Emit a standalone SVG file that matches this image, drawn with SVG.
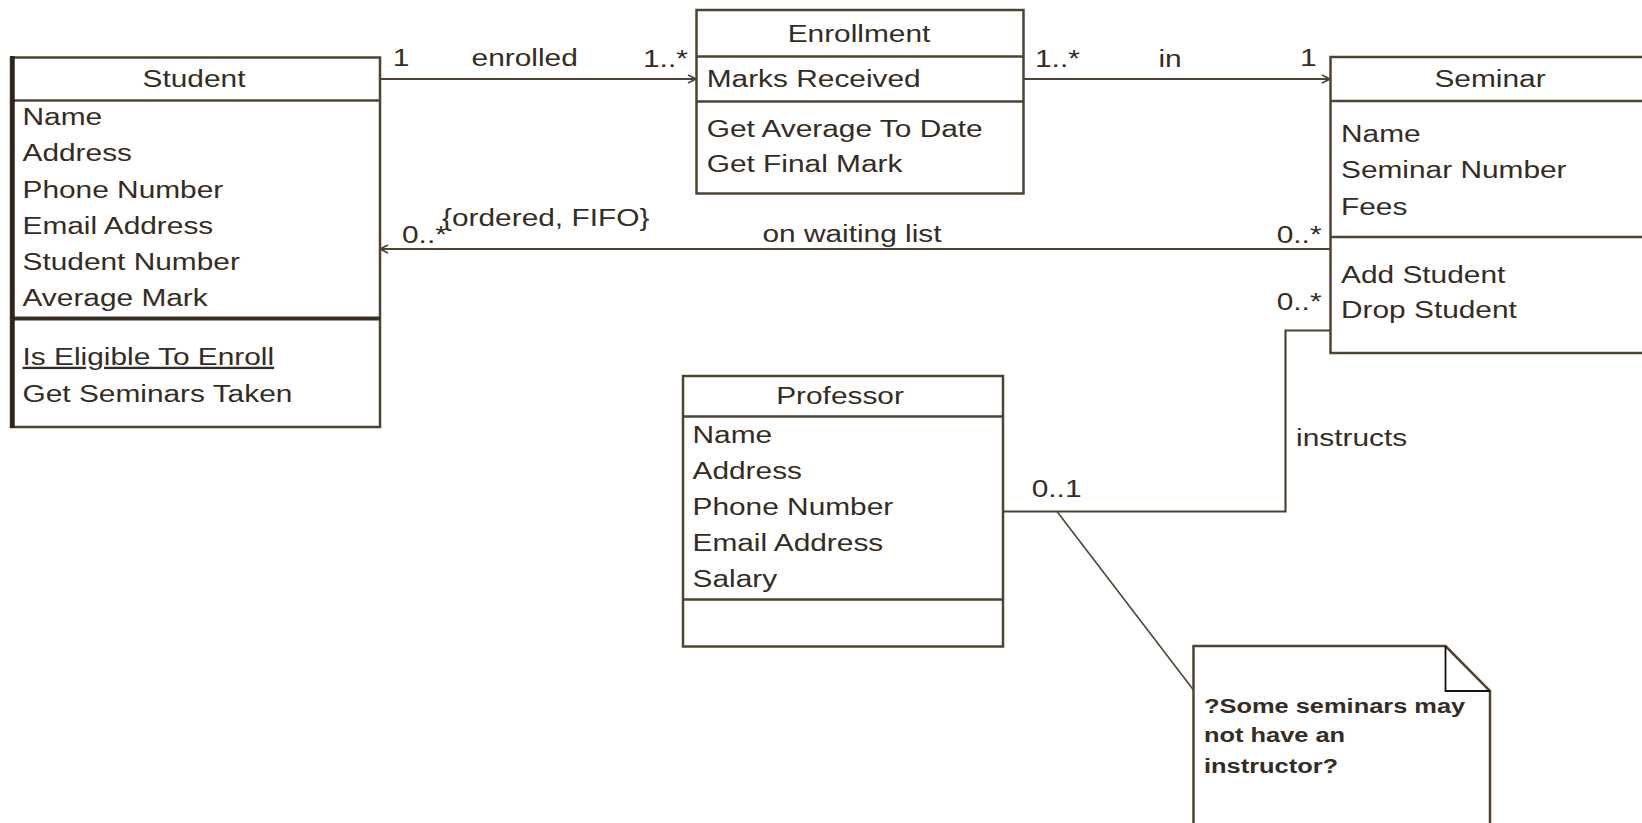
<svg xmlns="http://www.w3.org/2000/svg" width="1642" height="823" viewBox="0 0 1642 823">
<style>
.bg{fill:#ffffff}
.box{fill:#ffffff;stroke:#4f4336;stroke-width:2.5}
.div{stroke:#4f4336;stroke-width:2.5;fill:none}
.thick{stroke:#3a2f25;stroke-width:4;fill:none}
.edge{stroke:#2e241b;stroke-width:4.5;fill:none}
.fold{stroke:#111111;stroke-width:1.8;fill:none}
.con{stroke:#4f4336;stroke-width:2.2;fill:none}
.anchor{stroke:#4f4336;stroke-width:1.6;fill:none}
.t{font-family:"Liberation Sans",Arial,Helvetica,sans-serif;font-size:23.5px;fill:#352c24}
.c{text-anchor:middle}
.nb{font-family:"Liberation Sans",Arial,Helvetica,sans-serif;font-size:20px;font-weight:bold;fill:#352c24}
</style>
<defs>
<marker id="open" markerUnits="userSpaceOnUse" markerWidth="12" markerHeight="12" refX="9" refY="5" orient="auto">
<path d="M1,1 L9,5 L1,9" fill="none" stroke="#4f4336" stroke-width="1.8"/>
</marker>
</defs>
<rect class="bg" x="0" y="0" width="1642" height="823"/>

<g id="connectors">
<path id="c-enrolled" class="con" d="M380,79 L696,79" marker-end="url(#open)"/>
<path id="c-in" class="con" d="M1023,79 L1330,79" marker-end="url(#open)"/>
<path id="c-waiting" class="con" d="M1330,249 L380,249" marker-end="url(#open)"/>
<path id="c-instructs" class="con" d="M1003,511.5 L1285.5,511.5 L1285.5,330.5 L1330,330.5"/>
<path id="c-note" class="anchor" d="M1057,511.5 L1193.5,690"/>
<g id="connector-labels">
<text class="t" transform="translate(392.7 66) scale(1.27 1)">1</text>
<text class="t c" transform="translate(524.7 66) scale(1.27 1)">enrolled</text>
<text class="t" transform="translate(643 67) scale(1.27 1)">1..*</text>
<text class="t" transform="translate(1035 67) scale(1.27 1)">1..*</text>
<text class="t c" transform="translate(1170 67) scale(1.27 1)">in</text>
<text class="t" transform="translate(1300 66) scale(1.27 1)">1</text>
<text class="t" transform="translate(402 243) scale(1.27 1)">0..*</text>
<text class="t" transform="translate(442 226) scale(1.27 1)">{ordered, FIFO}</text>
<text class="t c" transform="translate(852 242) scale(1.27 1)">on waiting list</text>
<text class="t" transform="translate(1276.7 243) scale(1.27 1)">0..*</text>
<text class="t" transform="translate(1276.7 310) scale(1.27 1)">0..*</text>
<text class="t" transform="translate(1296 446) scale(1.27 1)">instructs</text>
<text class="t" transform="translate(1031.7 497) scale(1.27 1)">0..1</text>
</g>
</g>

<g id="Student">
<rect class="box" x="11" y="57.5" width="369" height="369.5"/>
<line class="div" x1="11" y1="100.5" x2="380" y2="100.5"/>
<line class="thick" x1="11" y1="318.5" x2="380" y2="318.5"/>
<line class="edge" x1="12.5" y1="56" x2="12.5" y2="428"/>
<text class="t c" transform="translate(194 87) scale(1.27 1)">Student</text>
<g transform="translate(22.5 0) scale(1.27 1)">
<text class="t" x="0" y="125">Name</text>
<text class="t" x="0" y="161.3">Address</text>
<text class="t" x="0" y="197.6">Phone Number</text>
<text class="t" x="0" y="234">Email Address</text>
<text class="t" x="0" y="270.2">Student Number</text>
<text class="t" x="0" y="306.5">Average Mark</text>
<text class="t" x="0" y="365" text-decoration="underline">Is Eligible To Enroll</text>
<text class="t" x="0" y="401.7">Get Seminars Taken</text>
</g>
</g>

<g id="Enrollment">
<rect class="box" x="696.5" y="10" width="327" height="183.5"/>
<line class="div" x1="696.5" y1="56.5" x2="1023.5" y2="56.5"/>
<line class="div" x1="696.5" y1="101.5" x2="1023.5" y2="101.5"/>
<text class="t c" transform="translate(859 41.5) scale(1.27 1)">Enrollment</text>
<g transform="translate(706.7 0) scale(1.27 1)">
<text class="t" x="0" y="86.7">Marks Received</text>
<text class="t" x="0" y="136.7">Get Average To Date</text>
<text class="t" x="0" y="171.7">Get Final Mark</text>
</g>
</g>

<g id="Seminar">
<rect class="box" x="1330.5" y="57" width="340" height="296"/>
<line class="div" x1="1330.5" y1="101" x2="1670" y2="101"/>
<line class="div" x1="1330.5" y1="237" x2="1670" y2="237"/>
<text class="t c" transform="translate(1490 86.5) scale(1.27 1)">Seminar</text>
<g transform="translate(1341 0) scale(1.27 1)">
<text class="t" x="0" y="141.7">Name</text>
<text class="t" x="0" y="178.3">Seminar Number</text>
<text class="t" x="0" y="215">Fees</text>
<text class="t" x="0" y="283.3">Add Student</text>
<text class="t" x="0" y="318.5">Drop Student</text>
</g>
</g>

<g id="Professor">
<rect class="box" x="683" y="376" width="320" height="270.5"/>
<line class="div" x1="683" y1="416.5" x2="1003" y2="416.5"/>
<line class="div" x1="683" y1="599.5" x2="1003" y2="599.5"/>
<text class="t c" transform="translate(840 404) scale(1.27 1)">Professor</text>
<g transform="translate(692.5 0) scale(1.27 1)">
<text class="t" x="0" y="443">Name</text>
<text class="t" x="0" y="479">Address</text>
<text class="t" x="0" y="515">Phone Number</text>
<text class="t" x="0" y="551">Email Address</text>
<text class="t" x="0" y="587">Salary</text>
</g>
</g>

<g id="Note">
<path class="box" d="M1193.5,835 L1193.5,646 L1445.5,646 L1490,691 L1490,835"/>
<path class="fold" d="M1445.5,646 L1445.5,691 L1490,691"/>
<g transform="translate(1204 0) scale(1.27 1)">
<text class="nb" x="0" y="713.5">?Some seminars may</text>
<text class="nb" x="0" y="742">not have an</text>
<text class="nb" x="0" y="773">instructor?</text>
</g>
</g>
</svg>
